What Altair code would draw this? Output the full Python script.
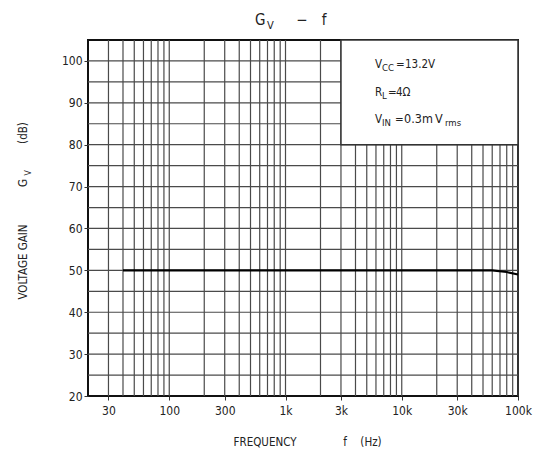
import altair as alt
import pandas as pd

# ---- data ----
freq = [40, 100, 1000, 10000, 60000, 80000, 100000]
gain = [50, 50, 50, 50, 50, 49.6, 49.0]

x_ticks = [30, 100, 300, 1000, 3000, 10000, 30000, 100000]
y_ticks = [20, 30, 40, 50, 60, 70, 80, 90, 100]
v_grid = [m * 10 ** e for e in range(1, 5) for m in range(1, 10) if m * 10 ** e > 20] + [100000]
h_grid = list(range(25, 105, 5))

box_f = [3000]
box_f2 = [100000]
box_g = [80]
box_g2 = [105]

FONT = "Liberation Sans Narrow, DejaVu Sans Condensed, DejaVu Sans, sans-serif"
TXT = "#222"

xs = alt.Scale(type="log", domain=[20, 100000], nice=False)
ys = alt.Scale(domain=[20, 105], nice=False, zero=False)

x_axis = alt.Axis(
    values=x_ticks, title=None, grid=False, domain=False, tickSize=4, tickColor="#333",
    labelExpr="datum.value >= 1000 ? (datum.value/1000) + 'k' : '' + datum.value",
    labelFont=FONT, labelFontSize=12, labelColor=TXT, labelPadding=5, labelFlush=False)
y_axis = alt.Axis(
    values=y_ticks, title=None, grid=False, domain=False, tickSize=4, tickColor="#333",
    labelFont=FONT, labelFontSize=12, labelColor=TXT, labelPadding=2)

vgrid = alt.Chart(pd.DataFrame({"f": v_grid})).mark_rule(color="#4a4a4a", strokeWidth=1.2).encode(
    x=alt.X("f:Q", scale=xs, axis=x_axis))
hgrid = alt.Chart(pd.DataFrame({"g": h_grid})).mark_rule(color="#4a4a4a", strokeWidth=1.2).encode(
    y=alt.Y("g:Q", scale=ys, axis=y_axis))

box = alt.Chart(pd.DataFrame({"f": box_f, "f2": box_f2, "g": box_g, "g2": box_g2})).mark_rect(
    fill="white", stroke="#333", strokeWidth=1.5).encode(
    x=alt.X("f:Q", scale=xs, title=None), x2="f2:Q",
    y=alt.Y("g:Q", scale=ys, title=None), y2="g2:Q")

line = alt.Chart(pd.DataFrame({"f": freq, "g": gain})).mark_line(color="black", strokeWidth=2.2).encode(
    x=alt.X("f:Q", scale=xs, title=None),
    y=alt.Y("g:Q", scale=ys, title=None))

def txt(s, x, y, size=12, align="left", baseline="alphabetic", angle=0):
    kw = dict(text=s, font=FONT, fontSize=size, color=TXT, align=align, baseline=baseline)
    if angle:
        kw["angle"] = angle
    return alt.Chart(pd.DataFrame({"a": [0]})).mark_text(**kw).encode(
        x=alt.value(x), y=alt.value(y))

texts = [
    # title
    txt("G", 167, -15, size=15),
    txt("V", 179, -11, size=11),
    txt("−", 214, -15, size=15, align="center"),
    txt("f", 236, -15, size=15, align="center"),
    # legend box
    txt("V", 287, 28, size=11.5),
    txt("CC", 294, 31, size=9.5),
    txt("=", 308, 28, size=11.5),
    txt("13.2V", 317, 28, size=11.5),
    txt("R", 287, 56, size=11.5),
    txt("L", 294, 59, size=9.5),
    txt("=", 300, 56, size=11.5),
    txt("4Ω", 308, 56, size=11.5),
    txt("V", 287, 83, size=11.5),
    txt("IN", 294, 86, size=9.5),
    txt("=", 307, 83, size=11.5),
    txt("0.3m", 316, 83, size=12.5),
    txt("V", 347, 83, size=12.5),
    txt("rms", 357, 86, size=9.5),
    # y title
    txt("VOLTAGE GAIN", -64, 222, size=11.5, align="center", baseline="middle", angle=270),
    txt("G", -64, 143, size=11.5, align="center", baseline="middle", angle=270),
    txt("V", -60, 133, size=8.5, align="center", baseline="middle", angle=270),
    txt("(dB)", -64, 93, size=11.5, align="center", baseline="middle", angle=270),
    # x title
    txt("FREQUENCY", 177, 403, size=11.5, align="center", baseline="middle"),
    txt("f", 257, 403, size=11.5, align="center", baseline="middle"),
    txt("(Hz)", 283, 403, size=11.5, align="center", baseline="middle"),
]

chart = alt.layer(vgrid, hgrid, box, line, *texts).properties(
    width=430, height=356,
    background="white",
    autosize=alt.AutoSizeParams(type="none"),
    padding={"left": 80, "top": 32, "right": 16, "bottom": 58},
).configure_view(stroke="#111", strokeWidth=2)

chart.save("out.html", embed_options={"renderer": "svg", "actions": False})
